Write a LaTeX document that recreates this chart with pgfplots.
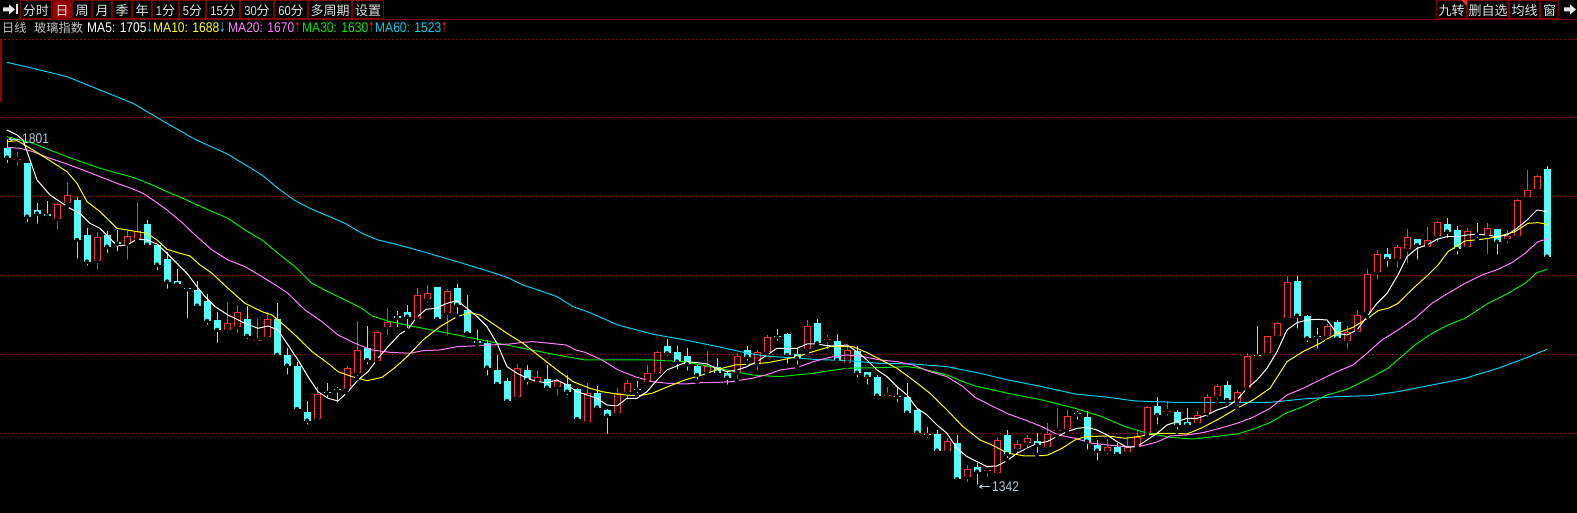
\documentclass[border=0pt]{standalone}
\usepackage{pgfplots}
\pgfplotsset{compat=1.18}
\usepackage{pgfplotstable}
\usepackage{graphicx}
\usepackage{fontspec}
\setmainfont{Liberation Sans}
\newfontfamily\cjk{Noto Sans CJK SC}
\newfontfamily\lat{Liberation Sans}[FakeStretch=0.86]
\newfontfamily\sym{DejaVu Sans}
\definecolor{upC}{RGB}{255,50,50}
\definecolor{dnC}{RGB}{84,252,252}
\definecolor{maA}{RGB}{255,255,255}
\definecolor{maB}{RGB}{255,255,0}
\definecolor{maC}{RGB}{255,128,255}
\definecolor{maD}{RGB}{0,230,0}
\definecolor{maE}{RGB}{0,205,235}
\definecolor{gridC}{RGB}{140,10,10}
\definecolor{btnC}{RGB}{128,0,0}
\definecolor{selC}{RGB}{150,0,0}
\definecolor{txtC}{RGB}{200,200,200}
\definecolor{lblC}{RGB}{185,198,212}
\definecolor{tbC}{RGB}{228,228,228}
\definecolor{arrD}{RGB}{60,180,230}
\definecolor{arrU}{RGB}{240,30,30}

% candles: i open high low close
\pgfplotstableread{
i o h l c
1 1773.3 1784.3 1763.2 1773.3
5 1695.0 1716.1 1678.7 1715.2
6 1717.0 1743.8 1711.7 1726.7
9 1640.4 1677.8 1625.9 1671.2
12 1662.9 1680.0 1639.1 1672.5
13 1669.5 1717.4 1668.6 1680.0
22 1548.9 1585.9 1542.3 1557.7
23 1553.3 1581.9 1542.3 1572.2
25 1534.0 1563.0 1526.9 1534.8
26 1540.1 1572.2 1539.2 1563.0
31 1431.4 1473.2 1430.5 1464.4
34 1470.6 1501.4 1465.3 1498.3
35 1492.6 1560.8 1485.1 1522.5
37 1508.4 1547.1 1507.5 1545.8
38 1553.3 1578.4 1538.8 1559.0
41 1563.0 1604.8 1559.9 1595.1
42 1589.4 1608.3 1581.9 1597.3
44 1571.8 1603.5 1538.8 1600.4
51 1460.9 1504.0 1459.6 1498.3
53 1479.8 1496.1 1478.5 1486.4
55 1474.1 1482.9 1459.6 1482.0
58 1427.9 1478.5 1427.5 1465.3
61 1438.9 1471.9 1434.5 1465.3
62 1466.6 1482.9 1454.3 1478.5
64 1479.8 1502.7 1477.2 1491.7
65 1491.7 1521.2 1489.5 1519.4
70 1493.0 1521.2 1491.7 1501.4
73 1492.6 1518.1 1482.0 1514.6
75 1504.9 1522.5 1492.6 1519.4
76 1519.4 1542.3 1518.1 1539.7
80 1523.8 1562.1 1518.1 1554.2
82 1535.3 1542.3 1521.2 1536.1
84 1504.9 1526.0 1500.5 1522.5
88 1461.3 1474.1 1456.5 1462.2
94 1389.6 1405.9 1389.2 1402.4
96 1355.3 1370.7 1345.2 1365.0
98 1362.8 1368.5 1351.8 1363.7
99 1359.7 1407.2 1359.3 1403.7
101 1391.8 1403.7 1380.8 1398.0
102 1400.2 1410.3 1389.6 1405.9
104 1394.0 1425.7 1392.7 1411.2
105 1415.6 1446.4 1408.1 1416.5
106 1417.8 1443.3 1414.7 1435.8
110 1389.6 1405.0 1381.7 1394.0
112 1388.3 1408.1 1387.4 1394.9
113 1394.0 1416.9 1389.6 1408.1
114 1410.3 1448.6 1409.0 1447.7
116 1440.7 1455.2 1433.2 1441.5
119 1425.7 1442.4 1424.4 1436.7
120 1438.9 1464.4 1431.0 1460.0
121 1462.2 1477.6 1454.3 1474.9
123 1454.3 1469.7 1445.5 1467.5
124 1471.9 1518.1 1471.0 1514.6
126 1518.1 1541.4 1513.7 1541.0
127 1541.4 1559.0 1541.0 1557.7
128 1564.3 1620.2 1563.4 1611.8
132 1541.4 1556.4 1533.5 1554.2
134 1534.8 1554.2 1521.6 1545.8
135 1545.8 1575.3 1544.5 1568.7
136 1573.1 1629.0 1566.5 1622.4
137 1625.0 1654.5 1612.7 1648.8
139 1642.2 1661.1 1628.1 1658.9
140 1655.4 1682.2 1633.8 1671.2
142 1658.0 1684.4 1653.2 1667.3
143 1673.4 1692.8 1662.4 1691.0
146 1658.0 1684.0 1652.3 1680.0
148 1673.0 1690.6 1646.6 1683.1
150 1668.6 1680.9 1660.2 1673.4
151 1673.4 1721.4 1673.0 1720.5
152 1724.0 1760.1 1720.5 1733.7
153 1734.6 1753.5 1730.2 1752.2
}\upT

\pgfplotstableread{
i o h l c
0 1789.6 1801.0 1766.7 1776.4
2 1768.9 1769.8 1688.4 1698.5
3 1707.3 1716.1 1686.6 1702.5
4 1702.5 1719.2 1694.1 1699.8
7 1720.5 1724.0 1640.4 1667.7
8 1674.3 1683.1 1631.2 1639.1
10 1674.3 1680.0 1647.9 1658.9
11 1663.7 1680.9 1650.1 1662.9
14 1688.8 1694.1 1659.8 1661.5
15 1661.5 1662.4 1625.0 1635.1
16 1642.6 1651.4 1600.8 1612.7
17 1614.0 1629.4 1606.1 1609.6
18 1603.5 1603.5 1562.1 1602.6
19 1601.7 1613.6 1578.4 1581.0
20 1587.2 1596.4 1553.3 1560.8
21 1562.1 1572.7 1529.1 1548.9
24 1563.4 1581.0 1534.4 1541.0
27 1563.4 1584.1 1514.6 1515.9
28 1515.9 1524.7 1487.3 1501.8
29 1501.8 1506.2 1440.2 1444.6
30 1441.1 1455.2 1421.3 1429.2
32 1466.6 1479.4 1455.6 1465.7
33 1470.1 1474.1 1450.8 1469.3
36 1524.7 1554.2 1500.5 1509.3
39 1566.1 1574.0 1550.2 1565.2
40 1573.1 1581.9 1548.9 1566.5
43 1605.7 1606.1 1558.6 1563.4
45 1604.3 1609.6 1567.4 1581.9
46 1575.3 1595.1 1542.3 1544.5
47 1533.1 1548.9 1527.8 1532.2
48 1531.3 1535.7 1486.0 1499.2
49 1496.1 1515.9 1475.0 1477.6
50 1481.6 1485.1 1449.9 1455.2
52 1496.1 1502.7 1474.1 1482.9
54 1484.2 1502.7 1466.2 1472.8
56 1477.6 1489.5 1460.0 1467.5
57 1471.0 1471.9 1426.6 1431.4
59 1466.2 1474.9 1442.4 1446.4
60 1443.3 1444.6 1409.0 1435.8
63 1471.0 1481.6 1463.1 1470.1
66 1527.8 1537.0 1511.5 1518.1
67 1519.4 1527.8 1493.9 1507.1
68 1514.6 1524.7 1492.6 1503.6
69 1501.4 1502.7 1480.7 1489.5
71 1499.6 1511.5 1487.3 1492.6
72 1491.7 1493.0 1474.1 1486.0
74 1522.5 1527.8 1505.8 1513.7
77 1540.5 1550.2 1532.2 1539.7
78 1543.6 1545.4 1501.8 1515.9
79 1517.2 1524.7 1500.5 1511.5
81 1557.7 1563.4 1530.0 1531.3
83 1534.4 1543.6 1504.9 1509.3
85 1521.2 1527.8 1483.8 1492.6
86 1493.4 1493.9 1474.1 1487.3
87 1487.3 1489.5 1458.7 1462.2
89 1461.3 1474.1 1451.2 1460.5
90 1460.0 1479.4 1437.6 1439.8
91 1443.3 1444.2 1411.6 1413.4
92 1410.7 1421.3 1403.7 1409.9
93 1411.6 1416.9 1387.0 1389.6
95 1399.3 1410.3 1346.5 1351.8
97 1367.6 1373.8 1342.0 1361.9
100 1410.3 1416.9 1377.3 1385.2
103 1402.4 1412.5 1383.9 1397.1
107 1438.5 1442.4 1427.9 1437.6
108 1434.5 1442.0 1388.3 1401.5
109 1397.1 1403.7 1373.8 1389.6
111 1394.9 1399.3 1380.4 1385.2
115 1448.6 1460.0 1421.3 1436.7
117 1441.1 1443.3 1414.7 1423.5
118 1427.9 1446.4 1420.4 1423.5
122 1476.3 1481.6 1451.2 1456.5
125 1515.0 1554.2 1509.3 1514.1
129 1613.6 1620.2 1548.0 1567.8
130 1567.4 1568.7 1530.4 1537.9
131 1540.5 1551.1 1521.6 1539.7
133 1559.0 1562.1 1532.2 1537.9
138 1648.8 1656.7 1629.4 1642.6
141 1668.6 1669.0 1639.1 1661.1
144 1688.8 1697.2 1667.7 1678.7
145 1680.9 1686.2 1645.7 1655.8
147 1675.6 1690.6 1667.7 1674.7
149 1682.2 1682.7 1645.7 1665.5
154 1761.4 1765.4 1641.3 1645.7
}\dnT

\pgfplotstableread{
x y
0 1812.9
1 1806.3
1.6 1799.7
2.3 1773.3
3 1746.9
4.3 1727.1
5.3 1718.3
6.3 1709.5
7.3 1702.9
8.3 1689.7
9.3 1683.1
10.3 1669.9
11 1659.8
12 1661.1
13 1668.6
14 1667.7
15 1662.4
16 1650.1
17 1636.9
18 1623.7
19 1606.1
19.8 1592.9
20.8 1579.7
22.1 1568.7
23.8 1557.7
25.1 1551.1
26.1 1554.2
27.1 1548.9
28.1 1529.1
29.1 1509.3
30.1 1487.3
31.1 1467.5
32.1 1458.7
33.1 1455.2
34.1 1467.5
35.1 1482.9
36.1 1493.9
37.1 1511.5
38.1 1526.9
39.3 1543.6
40.1 1549.8
40.9 1564.3
41.9 1576.2
42.9 1577.5
44 1584.1
45 1587.6
46 1577.5
47 1566.5
48 1553.3
49 1531.3
50 1500.5
51 1491.7
52 1485.1
53 1480.7
54 1479.4
55 1482.9
56 1476.3
57 1467.5
58 1463.1
59 1458.7
60 1449.9
61 1448.6
62 1458.7
63 1458.7
64 1467.5
65 1482.9
66 1496.1
67 1501.4
68 1507.1
69 1505.8
70 1504
71 1498.3
72 1493.9
73 1496.1
74 1500.5
75 1507.1
76 1515.9
77 1524.7
78 1524.7
79 1524.7
80 1530.4
81 1530.4
82 1528.2
83 1527.8
84 1529.1
85 1520.3
86 1509.3
87 1496.1
88 1487.3
89 1474.1
90 1463.1
91 1445.5
92 1436.7
93 1423.5
94 1412.5
95 1392.7
96 1381.7
97 1375.1
98 1368.5
99 1369.4
100 1376.4
101 1386.1
102 1392.7
103 1399.3
104 1401.5
105 1408.1
106 1414.7
107 1419.1
108 1420.4
109 1416.9
110 1410.3
111 1401.5
112 1394
113 1394.9
114 1403.7
115 1412.5
116 1423.5
117 1427.9
118 1432.3
119 1432.3
120 1436.7
121 1443.3
122 1447.7
123 1456.5
124 1471.9
125 1482.9
126 1498.3
127 1520.3
128 1548.9
129 1558.6
130 1562.1
131 1563
132 1562.1
133 1544.5
134 1542.3
135 1548.9
136 1566.5
137 1584.1
138 1597.3
139 1619.3
140 1645.7
141 1656.7
142 1661.1
143 1668.6
144 1672.1
145 1672.1
146 1674.3
147 1675.2
148 1674.3
149 1672.1
150 1674.3
151 1683.1
152 1694.1
153 1707.3
154 1705.1
}\maAT

\pgfplotstableread{
x y
0 1797.5
1 1798.8
1.6 1794.4
2.6 1786.5
4.3 1772.4
6 1757.9
7 1742.5
8 1718.3
9.3 1705.1
11 1683.1
12 1680.9
13 1678.7
14 1676.5
15 1667.7
16 1655.4
17.3 1650.1
18.3 1646.6
19.3 1634.7
20.5 1623.7
22.1 1603.9
23.8 1584.1
25.5 1573.1
26.5 1568.7
27.5 1557.7
28.8 1542.3
30.5 1520.3
32.1 1504.9
33.1 1493.9
34.5 1487.3
36 1482
37.5 1486.4
38.8 1499.2
40 1513.7
41.6 1535.7
43.3 1553.3
45 1566.5
46.3 1571.8
47.3 1568.7
48.3 1559.9
50 1544.5
51.6 1531.3
53.3 1513.7
55 1496.1
56.6 1480.7
58.3 1471.9
59.5 1467.5
61.1 1464
63.1 1461.8
64.5 1465.3
66.1 1474.1
67.8 1482.9
69.5 1489.5
71.1 1497
72.8 1502.7
74.5 1504
76.1 1505.8
77.8 1510.2
79 1513.7
80.6 1520.3
82.3 1526.9
84.6 1526.9
86 1519
87.3 1510.2
89 1498.3
90.6 1482.9
92.3 1465.3
94 1443.3
95.6 1421.3
97.3 1403.7
98.5 1397.1
100.1 1386.1
101.8 1382.6
103.5 1383
104.1 1383.9
105.5 1392.7
106.8 1403.7
107.8 1408.1
110.1 1409
111.8 1405.9
113.5 1409
115.1 1412.5
116.8 1412.5
118 1411.6
119.6 1420.4
121.3 1432.3
123 1445.5
124.6 1456.5
126.3 1471.9
128 1507.1
129.6 1520.3
131.3 1531.3
133 1544.5
134.6 1552.4
136.3 1566.5
137.1 1574.4
138.1 1577.5
139.1 1584.1
140.8 1606.1
142.1 1621.5
143.1 1634.7
144.1 1652.3
145.8 1666.4
147.5 1668.6
149.1 1672.1
150.8 1678.7
152.1 1689.7
153.1 1690.6
154 1688.4
}\maBT

\pgfplotstableread{
x y
0 1790
1.3 1788.7
2.6 1784.3
4.3 1775.5
6 1768
7.6 1760.1
9.3 1751.3
11 1742.5
12.6 1735
13.6 1729.3
14.6 1720.5
16 1707.3
17.6 1689.7
18.8 1674.3
20.5 1654.5
22.1 1641.3
23.8 1632.5
25.5 1619.3
27.1 1606.1
28.1 1597.3
29.8 1575.3
31.5 1559.9
33.1 1542.3
34.8 1531.3
36.5 1522.5
38.3 1519.4
40.3 1518.1
41.6 1521.6
43.3 1522.5
45 1526.9
46.6 1527.8
48.3 1529.1
50.3 1530.4
51.6 1532.6
52.6 1533.5
54.3 1531.3
55.9 1529.1
56.9 1522.5
57.8 1519.4
59.5 1509.3
61.1 1496.1
62.8 1487.3
64.5 1480.7
66.1 1478.5
67.8 1477.6
69.5 1479.4
71.1 1479.8
72.5 1480.7
74.5 1485.1
76.1 1490.4
77.3 1496.1
79 1499.2
80.6 1507.1
82.3 1512.8
84 1515.9
85.6 1513.7
87.3 1509.3
89 1507.1
90.6 1502.7
92.3 1493.9
94 1487.3
95.6 1474.1
96.8 1460
98.5 1448.6
100.1 1438.1
101.8 1430.1
103.5 1421.3
105.1 1410.3
106.8 1405.9
108.5 1399.3
110.1 1397.1
111.8 1394.9
113.5 1395.8
115.1 1401.5
116.3 1409
118 1410.3
119.6 1413.4
121.3 1419.1
123 1425.7
124.6 1433.6
126.3 1445.5
128 1463.1
129.6 1471.9
131.3 1482.9
133 1493.9
134.6 1502.7
135.8 1515.9
137.5 1535.7
139.1 1548.9
140.8 1564.3
142.5 1584.1
144.1 1597.3
145.8 1610.5
147.5 1621.5
149.1 1629
150.5 1637.8
151.8 1650.1
153.1 1665.5
154 1669
}\maCT

\pgfplotstableread{
x y
0 1804.1
2.6 1795.3
6 1777.7
9.3 1762.3
12.6 1750.4
14.3 1741.6
16 1731.5
17.6 1722.7
18.8 1715.2
22.1 1696.3
23.8 1680.9
25.5 1667.7
27.1 1650.1
28.8 1632.5
30.5 1610.5
32.1 1599.5
33.8 1588.5
35.5 1577.5
36.5 1567.4
38.3 1559.9
41.6 1551.1
45 1542.3
48.3 1533.5
51.6 1524.7
55 1515.9
57.8 1509.3
62.5 1509.3
64.5 1509.3
67.8 1507.1
71.1 1498.3
72.8 1493.9
74.5 1489.5
77.3 1487.3
80.6 1491.7
82.3 1495.2
84 1498.3
87.3 1499.2
90 1500.5
91.3 1498.3
94 1489.5
95.6 1480.7
96.8 1475
100.1 1465.3
103.5 1456.5
106.8 1445.5
109.5 1434.5
111.8 1421.3
113.5 1414.7
116.3 1407.2
118.6 1405
121.3 1409
123 1411.6
124.6 1417.8
126.3 1426.6
128 1439.8
129.6 1447.7
132 1463.1
134 1470.6
135.8 1482
138.1 1498.3
140.8 1529.1
142.5 1544.5
144.1 1555.5
145.8 1564.3
148.1 1584.1
150.1 1597.3
151.8 1610.5
153 1624.6
154 1629
}\maDT

\pgfplotstableread{
x y
0 1902.2
2.6 1894.3
6 1883.3
9.3 1865.7
12.6 1848.1
16 1821.7
18.8 1800.6
22.1 1780.8
25.5 1753.5
27.1 1735.9
28.8 1719.6
30.5 1708.2
32.1 1699.4
33.8 1689.7
35.5 1676.5
37.1 1667.7
38.8 1662.4
41.6 1652.3
45 1639.1
48.3 1625.9
50 1618.4
51.6 1608.3
53.3 1600.8
55 1592.9
56.6 1579.7
58.3 1571.8
61.1 1555.5
64.5 1543.6
67.8 1535.7
71.1 1526.9
73.8 1519
75.8 1514.6
77.8 1512.8
80.6 1510.2
84 1508.4
87.3 1504.9
90.6 1504
94 1500.5
97.3 1491.7
100.1 1482.9
103.5 1474.1
106.8 1464.4
110.1 1460
112.8 1455.2
116.8 1453.4
126.3 1453.4
129.6 1457.8
133 1460.9
136.3 1462.2
139.1 1467.5
142.5 1476.3
145.8 1485.1
149.1 1498.3
151.8 1511.5
154 1523.4
}\maET

\newcommand\tbf{\fontsize{13}{13}\selectfont}
\newcommand\lgf{\fontsize{14}{14}\selectfont}
\newcommand\cjf{\fontsize{12.2}{12.2}\selectfont}
\newcommand\dn{{\sym\scalebox{0.55}[1]{↓}}}
\newcommand\up{{\sym\scalebox{0.55}[1]{↑}}}

\begin{document}
\begin{tikzpicture}[x=1pt,y=1pt]
\useasboundingbox (0,0) rectangle (1577,513);
\fill[black] (0,0) rectangle (1577,513);
\begin{axis}[at={(0,0)}, anchor=south west, scale only axis,
  width=1577pt, height=473pt,
  xmin=-0.7, xmax=157, ymin=1307.3, ymax=1931.7,
  axis line style={draw=none},
  xtick=\empty, ytick={1829.7,1725.4,1621.1,1516.8,1412.5}, yticklabels={},
  major tick length=0pt, ymajorgrids,
  grid style={gridC, line width=1pt, dash pattern=on 1.5pt off 2.5pt},
  clip=true]
% down candles (filled cyan)
\addplot[only marks, mark=none, error bars/.cd, y dir=plus, y explicit, error mark=none,
  error bar style={draw=dnC, line width=1pt}]
  table[x=i, y=l, y error expr=\thisrow{h}-\thisrow{l}] {\dnT};
\addplot[only marks, mark=none, error bars/.cd, y dir=plus, y explicit, error mark=none,
  error bar style={draw=dnC, line width=7pt}]
  table[x=i, y=c, y error expr={max(\thisrow{o}-\thisrow{c},1.5)}] {\dnT};
% up candles (hollow red)
\addplot[only marks, mark=none, error bars/.cd, y dir=plus, y explicit, error mark=none,
  error bar style={draw=upC, line width=1pt}]
  table[x=i, y=l, y error expr=\thisrow{h}-\thisrow{l}] {\upT};
\addplot[only marks, mark=none, error bars/.cd, y dir=plus, y explicit, error mark=none,
  error bar style={draw=upC, line width=7pt}]
  table[x=i, y=o, y error expr={max(\thisrow{c}-\thisrow{o},1.5)}] {\upT};
\addplot[only marks, mark=none, error bars/.cd, y dir=plus, y explicit, error mark=none,
  error bar style={draw=black, line width=5pt}]
  table[x=i, y expr=\thisrow{o}+1.32, y error expr={max(\thisrow{c}-\thisrow{o}-2.64,0)}] {\upT};
% moving averages
\addplot[maE, line width=1pt] table[x=x,y=y] {\maET};
\addplot[maD, line width=1pt] table[x=x,y=y] {\maDT};
\addplot[maC, line width=1pt] table[x=x,y=y] {\maCT};
\addplot[maB, line width=1pt] table[x=x,y=y] {\maBT};
\addplot[maA, line width=1pt] table[x=x,y=y] {\maAT};
% high / low markers
\draw[lblC, line width=1pt, -stealth] (axis cs:1.3,1801) -- (axis cs:0.1,1801);
\node[anchor=west, inner sep=0pt, text=lblC, font=\lat\lgf] at (axis cs:1.5,1801) {1801};
\draw[lblC, line width=1pt, -stealth] (axis cs:98.3,1342) -- (axis cs:97.1,1342);
\node[anchor=west, inner sep=0pt, text=lblC, font=\lat\lgf] at (axis cs:98.5,1342) {1342};
\end{axis}
% left red edge
\draw[selC, line width=1.5pt] (0.75,473) -- (0.75,411);
% toolbar
\fill[selC] (52,513) rectangle (72,494);
\foreach \a/\b in {20/52,52/72,72/92,92/112,112/132,132/152,152/179,179/206,206/240,240/274,274/308,308/352,352/384,1436/1467,1467/1509,1509/1540,1540/1559}
  \draw[btnC, line width=1pt] (\a+0.5,512.5) rectangle (\b-0.5,494);
\fill[upC] (1461,513) -- (1467,513) -- (1467,507) -- cycle;
\draw[btnC, line width=1pt] (0,493.7) -- (1577,493.7);
\draw[gridC, line width=1pt, dash pattern=on 1.5pt off 2.5pt] (0,473.5) -- (1577,473.5);
% arrow-to-bar icons
\foreach \ox in {0,1561}{
  \fill[tbC] (\ox+3,505.5) -- (\ox+9,505.5) -- (\ox+9,508.5) -- (\ox+15,503.5)
     -- (\ox+9,498.5) -- (\ox+9,501.5) -- (\ox+3,501.5) -- cycle;
  \fill[tbC] (\ox+15.5,508.5) rectangle (\ox+17.5,498.5);
}
\begin{scope}[every node/.style={anchor=base, inner sep=0pt, text=tbC, font=\tbf}]
\node at (36,497.5) {\cjk 分时};
\node at (62,497.5) {\cjk 日};
\node at (82,497.5) {\cjk 周};
\node at (102,497.5) {\cjk 月};
\node at (122,497.5) {\cjk 季};
\node at (142,497.5) {\cjk 年};
\node at (165.5,497.5) {\lat 1\cjk 分};
\node at (192.5,497.5) {\lat 5\cjk 分};
\node at (223,497.5) {\lat 15\cjk 分};
\node at (257,497.5) {\lat 30\cjk 分};
\node at (291,497.5) {\lat 60\cjk 分};
\node at (330,497.5) {\cjk 多周期};
\node at (368,497.5) {\cjk 设置};
\node at (1451.5,497.5) {\cjk 九转};
\node at (1488,497.5) {\cjk 删自选};
\node at (1524.5,497.5) {\cjk 均线};
\node at (1549.5,497.5) {\cjk 窗};
\end{scope}
% legend line
\begin{scope}[every node/.style={anchor=base west, inner sep=0pt, font=\lgf}]
\node[text=txtC, font=\cjf] at (2,480.5) {\cjk 日线};
\node[text=txtC, font=\cjf] at (34,480.5) {\cjk 玻璃指数};
\node at (87,480.5) {\lat\textcolor{maA}{MA5: 1705}\textcolor{arrD}{\dn}};
\node at (153,480.5) {\lat\textcolor{maB}{MA10: 1688}\textcolor{arrD}{\dn}};
\node at (228,480.5) {\lat\textcolor{maC}{MA20: 1670}\textcolor{arrU}{\up}};
\node at (302,480.5) {\lat\textcolor{maD}{MA30: 1630}\textcolor{arrU}{\up}};
\node at (375,480.5) {\lat\textcolor{maE}{MA60: 1523}\textcolor{arrU}{\up}};
\end{scope}
\end{tikzpicture}
\end{document}
